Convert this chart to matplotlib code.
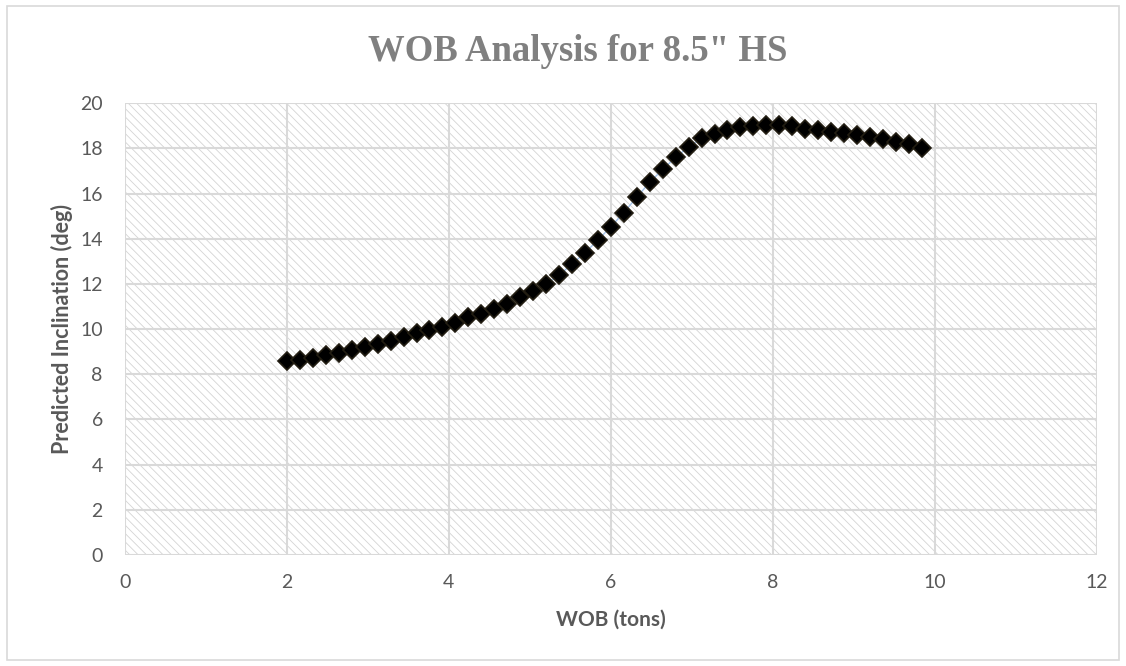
import matplotlib.pyplot as plt
from matplotlib.patches import Rectangle

# WOB (tons) vs predicted inclination (deg)
wob = [2.00, 2.16, 2.32, 2.48, 2.64, 2.80, 2.96, 3.12, 3.28, 3.44,
       3.60, 3.76, 3.92, 4.08, 4.24, 4.40, 4.56, 4.72, 4.88, 5.04,
       5.20, 5.36, 5.52, 5.68, 5.84, 6.00, 6.16, 6.32, 6.48, 6.64,
       6.80, 6.96, 7.12, 7.28, 7.44, 7.60, 7.76, 7.92, 8.08, 8.24,
       8.40, 8.56, 8.72, 8.88, 9.04, 9.20, 9.36, 9.52, 9.68, 9.84]
incl = [8.60, 8.65, 8.73, 8.85, 8.92, 9.07, 9.19, 9.34, 9.48, 9.63,
        9.81, 9.96, 10.10, 10.29, 10.52, 10.69, 10.89, 11.12, 11.40, 11.68,
        11.99, 12.39, 12.88, 13.38, 13.94, 14.53, 15.16, 15.84, 16.50, 17.07,
        17.60, 18.07, 18.44, 18.63, 18.81, 18.93, 19.00, 19.03, 19.02, 18.97,
        18.88, 18.81, 18.73, 18.66, 18.58, 18.51, 18.40, 18.29, 18.19, 18.00]

xticks = [0, 2, 4, 6, 8, 10, 12]
yticks = [0, 2, 4, 6, 8, 10, 12, 14, 16, 18, 20]

plt.rcParams['font.family'] = ['Lato', 'DejaVu Sans']
plt.rcParams['hatch.linewidth'] = 0.6

fig = plt.figure(figsize=(11.26, 6.66), dpi=100)
ax = fig.add_axes([0.111, 0.1667, 0.863, 0.6783])

# hatched plot-area background
bg = Rectangle((0, 0), 1, 1, transform=ax.transAxes, facecolor='white',
               edgecolor='#d4d4d4', hatch='\\\\\\\\', linewidth=0, zorder=0)
ax.add_patch(bg)

ax.plot(wob, incl, color='#a6c3e8', lw=1, zorder=3)
ax.plot(wob, incl, ls='none', marker='D', ms=9, mfc='black',
        mec='#221d12', mew=1.2, zorder=4, clip_on=False)

ax.set_xlim(0, 12)
ax.set_ylim(0, 20)
ax.set_xticks(xticks)
ax.set_yticks(yticks)
ax.grid(True, color='#d9d9d9', lw=1.5, zorder=1)
ax.set_axisbelow(True)
for s in ax.spines.values():
    s.set_visible(False)
ax.tick_params(length=0, labelsize=14, labelcolor='#595959')
ax.tick_params(axis='y', pad=16)
ax.tick_params(axis='x', pad=14)

ax.set_xlabel('WOB (tons)', fontsize=15, fontweight='bold', color='#595959', labelpad=13)
ax.set_ylabel('Predicted Inclination (deg)', fontsize=15.5, fontweight='bold',
              color='#595959', labelpad=5)

fig.text(0.513, 0.922, 'WOB Analysis for 8.5" HS', ha='center', va='center',
         fontsize=26.5, fontweight='bold', color='#808080', family='Liberation Serif')

# chart border
fig.patches.append(Rectangle((0.0065, 0.009), 0.987, 0.982, transform=fig.transFigure,
                             fill=False, edgecolor='#d9d9d9', lw=1.2))

fig.savefig('out.png', dpi=100)
